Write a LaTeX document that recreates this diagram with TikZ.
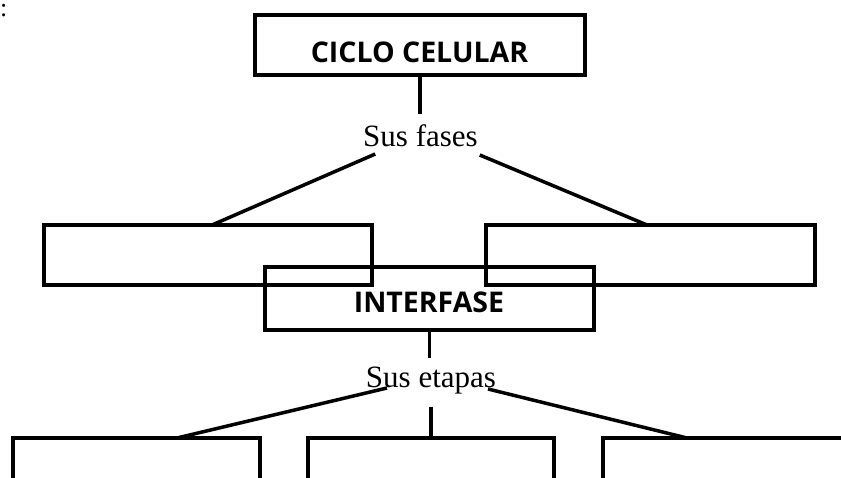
\documentclass[tikz,border=0pt]{standalone}
\usepackage{fontspec}
\setmainfont{Liberation Serif}
\newfontfamily\boxfont{Open Sans}
\usetikzlibrary{calc}
\begin{document}
\begin{tikzpicture}[x=1pt,y=-1pt,line width=3.5pt,
  box/.style={draw, rectangle, inner sep=0pt, outer sep=0pt, line width=3.5pt},
  headtxt/.style={font=\boxfont\bfseries\fontsize{28.5}{30}\selectfont, inner sep=0pt, outer sep=0pt, anchor=base},
  phrase/.style={font=\fontsize{31}{33}\selectfont, inner xsep=0pt, outer sep=0pt, anchor=base}]
\clip (0,0) rectangle (841,478);
% colon at top left
\node[font=\fontsize{26}{28}\selectfont, inner sep=0pt, outer sep=0pt, anchor=base west] (colon) at (0,17) {:};
% title
\node[box, minimum width=330pt, minimum height=60pt] (cc) at (420,45) {};
\node[headtxt] (cct) at (419.5,63) {CICLO CELULAR};
\node[phrase, inner ysep=11pt] (fases) at (420.5,147) {Sus fases};
% phases
\node[box, minimum width=328pt, minimum height=60pt] (L) at (208,255) {};
\node[box, minimum width=329pt, minimum height=60pt] (R) at (650.5,255) {};
\node[box, minimum width=329pt, minimum height=63pt] (I) at (429.5,298.5) {};
\node[headtxt] (It) at (429,313) {INTERFASE};
\node[phrase, inner ysep=9pt] (etapas) at (431,388) {Sus etapas};
% stages
\node[box, minimum width=247pt, minimum height=100pt] (B1) at (136.5,488) {};
\node[box, minimum width=246pt, minimum height=100pt] (B2) at (431,488) {};
\node[box, minimum width=247pt, minimum height=100pt] (B3) at (726.5,488) {};
% connectors
\draw (cc.south) -- (cc.south |- fases.north);
\draw ($(fases.base west)+(12,7)$) -- ($(L.north)+(4,0)$);
\draw ($(fases.base east)+(2,8)$) -- ($(R.north)+(-3.5,0)$);
\draw (I.south) -- (I.south |- etapas.north);
\draw ($(etapas.base west)+(21,0)$) -- ($(B1.north)+(40.5,0)$);
\draw ($(etapas.base east)+(-8,1)$) -- ($(B3.north)+(-39.5,0)$);
\draw ($(B2.north |- etapas.south)+(0,3)$) -- (B2.north);
\end{tikzpicture}
\end{document}
